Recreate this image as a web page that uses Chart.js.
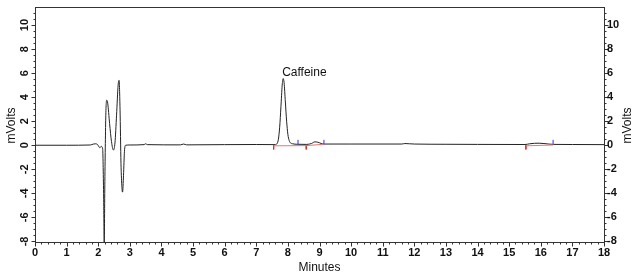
<!DOCTYPE html>
<html>
<head>
<meta charset="utf-8">
<script src="https://cdn.jsdelivr.net/npm/chart.js@4.4.1/dist/chart.umd.min.js"></script>
<style>
html,body{margin:0;padding:0;background:#fff;}
#wrap{width:636px;height:279px;}
</style>
</head>
<body>
<div id="wrap"><canvas id="c" width="636" height="279"></canvas></div>
<script>
// ---- data ----
const times = [0,1.0,1.75,1.85,1.92,1.98,2.05,2.1,2.14,2.17,2.19,2.21,2.24,2.27,2.3,2.36,2.42,2.48,2.53,2.58,2.63,2.66,2.69,2.72,2.75,2.77,2.8,2.83,2.87,3.0,3.45,3.5,3.55,4.6,4.7,4.8,6.0,7.0,7.6,7.66,7.7,7.74,7.78,7.82,7.85,7.88,7.92,7.96,8.0,8.04,8.08,8.15,8.3,8.6,8.75,8.85,8.95,9.05,9.15,10.0,11.6,11.7,12.0,13.0,14.0,15.5,15.65,15.8,15.95,16.1,16.25,16.4,17.0,18.0];
const mvolts = [0,0,0.02,0.1,0.12,0.05,-0.2,-0.1,-0.3,-4,-8.1,-3,2.5,3.75,3.5,1.8,0.3,-0.4,0.2,2.5,5.0,5.4,3.0,-1.5,-3.5,-3.9,-2.5,-0.5,0,0.02,0.05,0.12,0.05,0.03,0.1,0.03,0.05,0.06,0.05,0.15,0.5,1.5,3.2,5.0,5.55,5.2,3.6,2.0,0.9,0.4,0.2,0.12,0.08,0.07,0.15,0.28,0.25,0.15,0.1,0.1,0.1,0.14,0.1,0.08,0.07,0.06,0.12,0.16,0.17,0.14,0.1,0.07,0.06,0.05];
const baseStart = [7.55, 8.58, 15.53];
const baseEnd   = [8.58, 9.14, 16.39];
const baseStartV = [-0.05, -0.03, -0.05];
const baseEndV   = [-0.03, 0.08, 0.02];
const redTicks = [7.55, 8.58, 15.53];
const blueTicks = [8.32, 9.14, 16.39];
const peakNames = ['Caffeine'];
const peakTimes = [7.85];
const peakHeights = [5.55];
const xTicks = [0,1,2,3,4,5,6,7,8,9,10,11,12,13,14,15,16,17,18];
const yTicks = [-8,-6,-4,-2,0,2,4,6,8,10];
const xTitle = 'Minutes';
const yTitle = 'mVolts';

// ---- datasets built from the arrays ----
const signal = times.map((t,i)=>({x:t,y:mvolts[i]}));
const redBase = [];
baseStart.forEach((s,i)=>{redBase.push({x:s,y:baseStartV[i]},{x:baseEnd[i],y:baseEndV[i]},{x:baseEnd[i],y:null});});
const redTickPts = [];
redTicks.forEach(t=>{redTickPts.push({x:t,y:0},{x:t,y:-0.35},{x:t,y:null});});
const blueTickPts = [];
blueTicks.forEach(t=>{blueTickPts.push({x:t,y:0.05},{x:t,y:0.45},{x:t,y:null});});

const FONT = '"Liberation Sans", Arial, sans-serif';

const axesPlugin = {
  id:'axesPlugin',
  afterDraw(chart){
    const ctx = chart.ctx, xs = chart.scales.x, ys = chart.scales.y;
    const a = chart.chartArea;
    const L = Math.round(a.left)+0.5, R = Math.round(a.right)+0.5, T = Math.round(a.top)+0.5, B = Math.round(a.bottom)+0.5;
    ctx.save();
    ctx.strokeStyle = '#333'; ctx.lineWidth = 1;
    ctx.strokeRect(L, T, R-L, B-T);
    ctx.beginPath();
    for (let v = xs.min; v <= xs.max + 1e-9; v += 0.2) {
      const px = Math.round(xs.getPixelForValue(v))+0.5;
      const major = Math.abs(v - Math.round(v)) < 1e-6;
      ctx.moveTo(px, B); ctx.lineTo(px, B + (major ? 4 : 2));
    }
    for (let v = -8; v <= 11.01; v += 0.5) {
      const py = Math.round(ys.getPixelForValue(v))+0.5;
      const major = Math.abs(v/2 - Math.round(v/2)) < 1e-6;
      const len = major ? 4 : 2;
      ctx.moveTo(L, py); ctx.lineTo(L - len, py);
      ctx.moveTo(R, py); ctx.lineTo(R + len, py);
    }
    ctx.stroke();
    ctx.fillStyle = '#111';
    ctx.font = 'bold 11px ' + FONT;
    ctx.textAlign = 'center'; ctx.textBaseline = 'middle';
    xTicks.forEach(v=>{ ctx.fillText(String(v), xs.getPixelForValue(v), 253); });
    yTicks.forEach(v=>{
      const py = ys.getPixelForValue(v);
      ctx.save(); ctx.translate(25, py); ctx.rotate(-Math.PI/2);
      ctx.textAlign='center'; ctx.fillText(String(v), 0, 0); ctx.restore();
      ctx.textAlign='left'; ctx.fillText(String(v), 607, py);
    });
    ctx.font = '12px ' + FONT;
    ctx.textAlign='center';
    ctx.fillText(xTitle, (a.left+a.right)/2, 268);
    const cy = (a.top + a.bottom)/2 + 1;
    [12, 628].forEach(x=>{
      ctx.save(); ctx.translate(x, cy); ctx.rotate(-Math.PI/2);
      ctx.fillText(yTitle, 0, 0); ctx.restore();
    });
    ctx.textAlign='left'; ctx.textBaseline='alphabetic';
    peakNames.forEach((n,i)=>{
      ctx.fillText(n, xs.getPixelForValue(peakTimes[i]) - 1, ys.getPixelForValue(peakHeights[i]) - 2.5);
    });
    ctx.restore();
  }
};

new Chart(document.getElementById('c'), {
  type:'line',
  data:{ datasets:[
    {data:redBase, borderColor:'#f07070', borderWidth:1, pointRadius:0, spanGaps:false},
    {data:redTickPts, borderColor:'#e03030', borderWidth:1, pointRadius:0, spanGaps:false},
    {data:blueTickPts, borderColor:'#3030e0', borderWidth:1, pointRadius:0, spanGaps:false},
    {data:signal, borderColor:'#222', borderWidth:1, pointRadius:0, tension:0.3, cubicInterpolationMode:'monotone'}
  ]},
  options:{
    responsive:false, animation:false, devicePixelRatio:1,
    layout:{padding:{left:35, right:32, top:7, bottom:37}},
    plugins:{legend:{display:false}, tooltip:{enabled:false}},
    scales:{
      x:{type:'linear', min:0, max:18, display:false},
      y:{type:'linear', min:-8.05, max:11.5, display:false}
    }
  },
  plugins:[axesPlugin]
});
</script>
</body>
</html>
